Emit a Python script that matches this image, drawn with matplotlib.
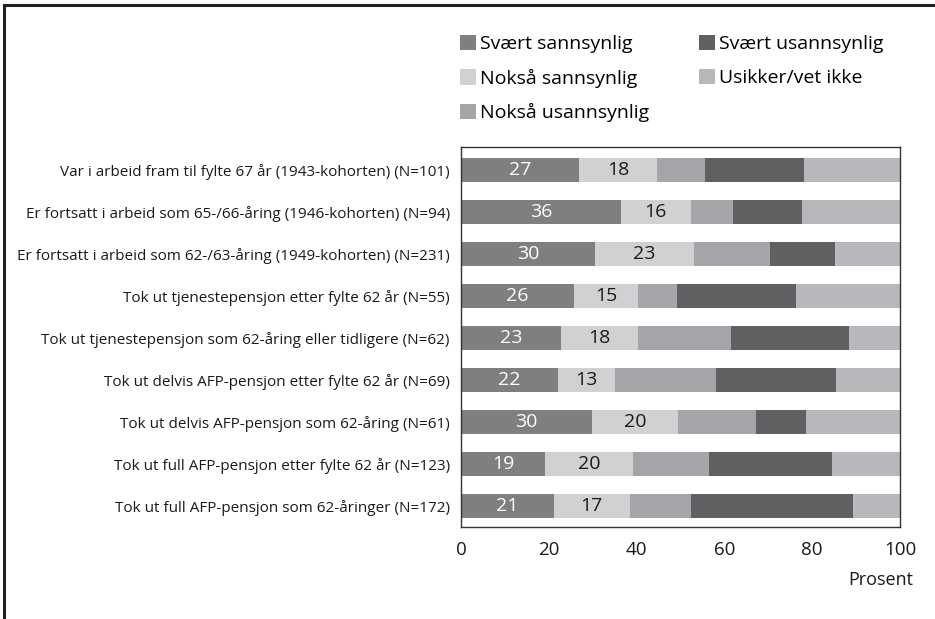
"""Stacked bar chart: likelihood of continuing work, by pension group."""

import matplotlib

matplotlib.use("Agg")
import matplotlib.pyplot as plt
from matplotlib.lines import Line2D

plt.rcParams["font.family"] = ["Open Sans", "DejaVu Sans"]

categories = [
    "Var i arbeid fram til fylte 67 år (1943-kohorten) (N=101)",
    "Er fortsatt i arbeid som 65-/66-åring (1946-kohorten) (N=94)",
    "Er fortsatt i arbeid som 62-/63-åring (1949-kohorten) (N=231)",
    "Tok ut tjenestepensjon etter fylte 62 år (N=55)",
    "Tok ut tjenestepensjon som 62-åring eller tidligere (N=62)",
    "Tok ut delvis AFP-pensjon etter fylte 62 år (N=69)",
    "Tok ut delvis AFP-pensjon som 62-åring (N=61)",
    "Tok ut full AFP-pensjon etter fylte 62 år (N=123)",
    "Tok ut full AFP-pensjon som 62-åringer (N=172)",
]

series_names = [
    "Svært sannsynlig",
    "Nokså sannsynlig",
    "Nokså usannsynlig",
    "Svært usannsynlig",
    "Usikker/vet ikke",
]

svaert_sannsynlig = [26.9, 36.4, 30.5, 25.7, 22.7, 22.0, 29.8, 19.1, 21.1]
noksaa_sannsynlig = [17.8, 15.9, 22.6, 14.6, 17.6, 13.0, 19.7, 20.2, 17.4]
noksaa_usannsynlig = [11.0, 9.7, 17.2, 9.0, 21.2, 23.1, 17.8, 17.1, 14.0]
svaert_usannsynlig = [22.5, 15.7, 15.0, 27.1, 27.0, 27.3, 11.3, 28.1, 36.8]
usikker = [21.8, 22.3, 14.7, 23.6, 11.5, 14.6, 21.4, 15.5, 10.7]

colors = ["#7f7f82", "#d0d1d3", "#a4a5a8", "#606063", "#b7b8bb"]

series = [svaert_sannsynlig, noksaa_sannsynlig, noksaa_usannsynlig,
          svaert_usannsynlig, usikker]

fig = plt.figure(figsize=(9.35, 6.19), dpi=100)
ax = fig.add_axes([0.493, 0.1486, 0.4695, 0.614])

ypos = list(range(len(categories)))
left = [0.0] * len(categories)
bars = []
for name, vals, col in zip(series_names, series, colors):
    b = ax.barh(ypos, vals, left=left, height=0.57, color=col, label=name,
                edgecolor="none")
    bars.append(b)
    left = [l + v for l, v in zip(left, vals)]

# value labels on the first two segments
for b, txtcol in [(bars[0], "white"), (bars[1], "#1a1a1a")]:
    ax.bar_label(b, labels=[f"{round(r.get_width()):d}" for r in b],
                 label_type="center", color=txtcol, fontsize=14)

ax.set_xlim(0, 100)
ax.set_ylim(8.5, -0.55)
ax.set_yticks(ypos)
ax.set_yticklabels(categories, fontsize=11, color="#1a1a1a")
ax.set_xticks([0, 20, 40, 60, 80, 100])
ax.tick_params(axis="both", length=0)
ax.tick_params(axis="x", labelsize=13.5, pad=10, colors="#1a1a1a")
ax.tick_params(axis="y", pad=8)
for sp in ax.spines.values():
    sp.set_color("#333333")
    sp.set_linewidth(1.0)

fig.text(913 / 935, 1 - 580 / 619, "Prosent", ha="right", va="center",
         fontsize=13, color="#1a1a1a")

ax.legend(loc="upper left", bbox_to_anchor=(452 / 935, 1 - 27 / 619),
          bbox_transform=fig.transFigure, ncol=2, frameon=False,
          fontsize=14, handlelength=0.85, handleheight=0.85,
          handletextpad=0.2, columnspacing=2.55, labelspacing=0.8,
          borderaxespad=0)

# outer frame (top and left edges)
fig.add_artist(Line2D([4 / 935, 1], [1 - 5 / 619, 1 - 5 / 619],
                      transform=fig.transFigure, color="#222222", lw=2.2))
fig.add_artist(Line2D([4 / 935, 4 / 935], [0, 1 - 5 / 619],
                      transform=fig.transFigure, color="#222222", lw=2.2))

fig.savefig("out.png", dpi=100)
